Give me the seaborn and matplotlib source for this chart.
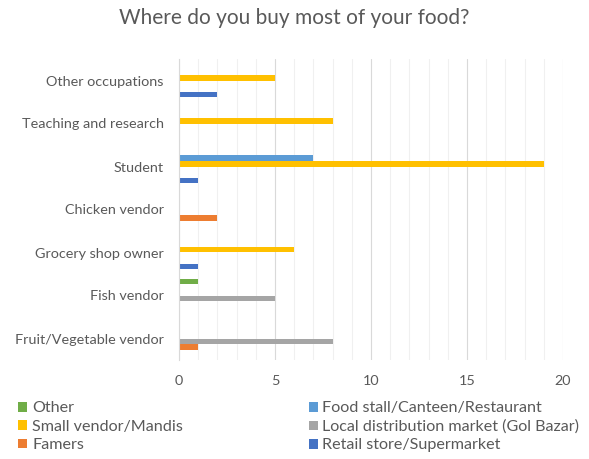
import matplotlib
matplotlib.use("Agg")
import matplotlib.pyplot as plt
from matplotlib.patches import Patch
from matplotlib.ticker import MultipleLocator
import seaborn as sns
import pandas as pd

# Occupations, listed top to bottom
occupations = [
    "Other occupations",
    "Teaching and research",
    "Student",
    "Chicken vendor",
    "Grocery shop owner",
    "Fish vendor",
    "Fruit/Vegetable vendor",
]

# Where food is bought, listed top to bottom within each occupation group
sources = [
    "Other",
    "Food stall/Canteen/Restaurant",
    "Small vendor/Mandis",
    "Local distribution market (Gol Bazar)",
    "Famers",
    "Retail store/Supermarket",
]

# Counts per source, one value per occupation (same order as occupations)
other_counts = [0, 0, 0, 0, 0, 1, 0]
food_stall_counts = [0, 0, 7, 0, 0, 0, 0]
small_vendor_counts = [5, 8, 19, 0, 6, 0, 0]
local_market_counts = [0, 0, 0, 0, 0, 5, 8]
farmers_counts = [0, 0, 0, 2, 0, 0, 1]
retail_counts = [2, 0, 1, 0, 1, 0, 0]

source_colors = {
    "Other": "#70AD47",
    "Food stall/Canteen/Restaurant": "#5B9BD5",
    "Small vendor/Mandis": "#FFC000",
    "Local distribution market (Gol Bazar)": "#A5A5A5",
    "Famers": "#ED7D31",
    "Retail store/Supermarket": "#4472C4",
}

counts = {
    "Other": other_counts,
    "Food stall/Canteen/Restaurant": food_stall_counts,
    "Small vendor/Mandis": small_vendor_counts,
    "Local distribution market (Gol Bazar)": local_market_counts,
    "Famers": farmers_counts,
    "Retail store/Supermarket": retail_counts,
}

rows = []
for src in sources:
    for occ, val in zip(occupations, counts[src]):
        rows.append({"Occupation": occ, "Source": src, "Count": val})
df = pd.DataFrame(rows)

sns.set_theme(style="white")
plt.rcParams["font.family"] = ["Lato", "DejaVu Sans"]
text_color = "#595959"

fig = plt.figure(figsize=(5.89, 4.59), dpi=100)
ax = fig.add_axes([179 / 589, 1 - 360 / 459, (563 - 179) / 589, (360 - 59) / 459])

sns.barplot(
    data=df, y="Occupation", x="Count", hue="Source",
    order=occupations, hue_order=sources, palette=source_colors,
    orient="h", width=0.77, gap=0, linewidth=0, saturation=1,
    errorbar=None, legend=False, ax=ax,
)

ax.set_xlim(0, 20)
ax.xaxis.set_major_locator(MultipleLocator(5))
ax.xaxis.set_minor_locator(MultipleLocator(1))
ax.grid(which="minor", axis="x", color="#F0F0F0", linewidth=0.8)
ax.grid(which="major", axis="x", color="#D9D9D9", linewidth=0.8)
ax.set_axisbelow(True)
for side in ["top", "right", "bottom"]:
    ax.spines[side].set_visible(False)
ax.spines["left"].set_color("#D9D9D9")
ax.spines["left"].set_linewidth(0.8)
ax.set_xlabel("")
ax.set_ylabel("")
ax.tick_params(axis="both", which="both", length=0, colors=text_color, labelsize=10.4)
ax.tick_params(axis="x", pad=11)
ax.tick_params(axis="y", pad=11)

fig.text(0.5, 1 - 18 / 459, "Where do you buy most of your food?",
         ha="center", va="center", fontsize=15, color=text_color)

legend_order = [
    "Other", "Small vendor/Mandis", "Famers",
    "Food stall/Canteen/Restaurant", "Local distribution market (Gol Bazar)",
    "Retail store/Supermarket",
]
handles = [Patch(facecolor=source_colors[s], edgecolor="none", label=s) for s in legend_order]
fig.legend(handles=handles, ncol=2, loc="upper left",
           bbox_to_anchor=(12 / 589, 1 - 395 / 459), frameon=False,
           fontsize=11.6, labelcolor=text_color, handlelength=0.55, handleheight=0.55,
           handletextpad=0.3, columnspacing=7.8, labelspacing=0.27, borderaxespad=0)

fig.savefig("out.png", dpi=100, facecolor="white")
